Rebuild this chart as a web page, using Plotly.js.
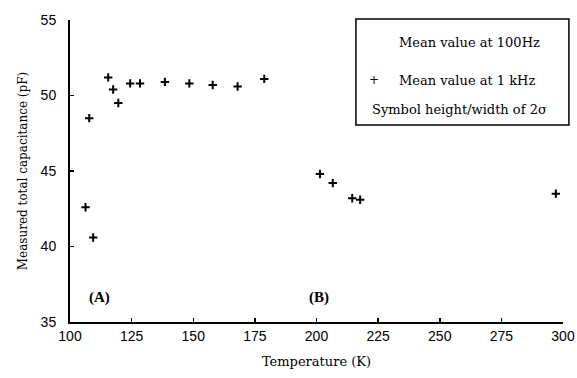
<!DOCTYPE html>
<html>
<head>
<meta charset="utf-8">
<script src="https://cdn.plot.ly/plotly-3.0.1.min.js"></script>
<style>html,body{margin:0;padding:0;background:#fff;}#chart{width:577px;height:378px;}</style>
</head>
<body>
<div id="chart"></div>
<script>
// Temperature (K) and mean capacitance at 1 kHz (pF)
const temperature = [106.3, 107.8, 109.4, 115.5, 117.5, 119.6, 124.4, 128.4, 138.5, 148.4, 157.9, 168.0, 178.8, 201.4, 206.6, 214.5, 217.7, 297.1];
const capacitance = [42.6, 48.5, 40.6, 51.2, 50.4, 49.5, 50.8, 50.8, 50.9, 50.8, 50.7, 50.6, 51.1, 44.8, 44.2, 43.2, 43.1, 43.5];
const xTicks = [100, 125, 150, 175, 200, 225, 250, 275, 300];
const yTicks = [35, 40, 45, 50, 55];
const legendLines = ["Mean value at 100Hz", "Mean value at 1 kHz", "Symbol height/width of 2\u03c3"];
const regionLabels = ["(A)", "(B)"];

const serif = "'DejaVu Serif', 'Liberation Serif', serif";
const sans = "'Liberation Sans', Arial, sans-serif";

const trace = {
  x: temperature, y: capacitance, type: "scatter", mode: "markers",
  marker: {symbol: "cross-thin-open", size: 6, color: "#000", line: {color: "#000", width: 2}},
  showlegend: false, hoverinfo: "skip"
};

const layout = {
  width: 577, height: 378,
  margin: {l: 70, r: 14, t: 20, b: 56},
  paper_bgcolor: "#fff", plot_bgcolor: "#fff",
  showlegend: false,
  xaxis: {
    range: [100, 300], tickvals: xTicks, ticktext: xTicks.map(String),
    ticks: "inside", ticklen: 4, tickwidth: 1.5, tickcolor: "#000",
    showline: true, linecolor: "#000", linewidth: 2, mirror: false,
    showgrid: false, zeroline: false,
    tickfont: {family: sans, size: 14, color: "#000"},
    title: {text: "Temperature (K)", font: {family: serif, size: 13, color: "#000"}, standoff: 14}
  },
  yaxis: {
    range: [35, 55], tickvals: yTicks, ticktext: yTicks.map(String),
    ticks: "inside", ticklen: 4, tickwidth: 1.5, tickcolor: "#000",
    showline: true, linecolor: "#000", linewidth: 2, mirror: false,
    showgrid: false, zeroline: false, ticklabelstandoff: 9,
    tickfont: {family: sans, size: 14, color: "#000"},
    title: {text: "Measured total capacitance (pF)", font: {family: serif, size: 12, color: "#000"}, standoff: 10}
  },
  shapes: [
    {type: "rect", xref: "paper", yref: "paper", x0: 0.580, x1: 1.012, y0: 0.652, y1: 1.003,
     line: {color: "#000", width: 1.5}, fillcolor: "rgba(0,0,0,0)"}
  ],
  annotations: [
    {xref: "paper", yref: "paper", x: 0.663, y: 0.925, xanchor: "left", yanchor: "middle", showarrow: false,
     text: legendLines[0], font: {family: serif, size: 13, color: "#000"}},
    {xref: "paper", yref: "paper", x: 0.663, y: 0.800, xanchor: "left", yanchor: "middle", showarrow: false,
     text: legendLines[1], font: {family: serif, size: 13, color: "#000"}},
    {xref: "paper", yref: "paper", x: 0.617, y: 0.800, xanchor: "center", yanchor: "middle", showarrow: false,
     text: "+", font: {family: serif, size: 12, color: "#000"}},
    {xref: "paper", yref: "paper", x: 0.609, y: 0.705, xanchor: "left", yanchor: "middle", showarrow: false,
     text: legendLines[2], font: {family: serif, size: 13, color: "#000"}},
    {xref: "x", yref: "y", x: 112, y: 36.6, xanchor: "center", yanchor: "middle", showarrow: false,
     text: "<b>" + regionLabels[0] + "</b>", font: {family: "'Liberation Serif', serif", size: 15, color: "#000"}},
    {xref: "x", yref: "y", x: 201, y: 36.6, xanchor: "center", yanchor: "middle", showarrow: false,
     text: "<b>" + regionLabels[1] + "</b>", font: {family: "'Liberation Serif', serif", size: 15, color: "#000"}}
  ]
};

Plotly.newPlot("chart", [trace], layout, {displayModeBar: false, staticPlot: true});
</script>
</body>
</html>
